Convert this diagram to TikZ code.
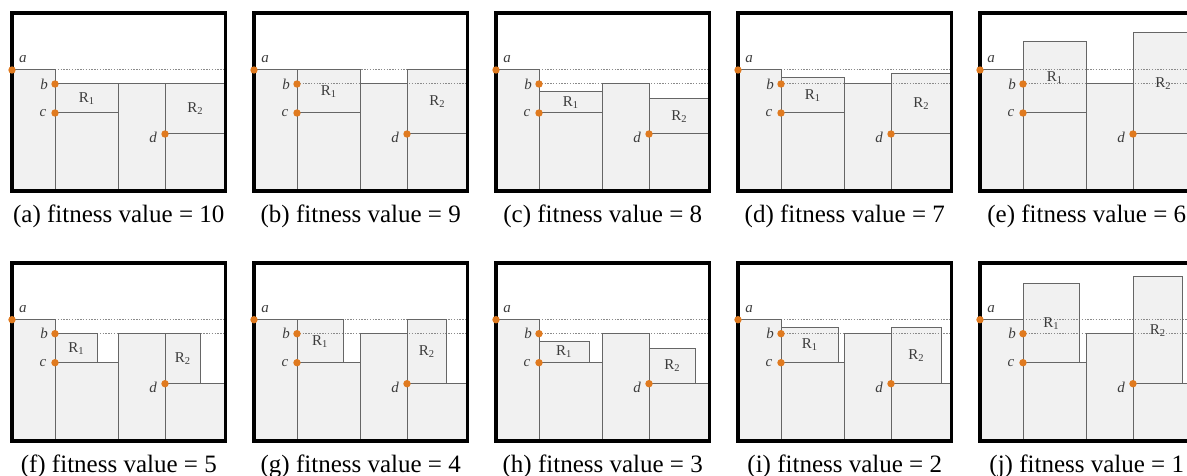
\documentclass[tikz,border=0pt]{standalone}
\usepackage{fontspec}
\setmainfont{Liberation Serif}
\definecolor{skyfill}{HTML}{F1F1F1}
\definecolor{edgegray}{HTML}{666666}
\definecolor{guidegray}{HTML}{8A8A8A}
\definecolor{dotorange}{HTML}{E07A1F}
\definecolor{lblgray}{HTML}{3C3C3C}
\begin{document}
\begin{tikzpicture}[x=1pt,y=-1pt,
  skyline/.style={fill=skyfill},
  edgeline/.style={draw=edgegray,line width=1pt},
  guideline/.style={draw=guidegray,line width=1pt,dash pattern=on 1.3pt off 1.5pt},
  framebox/.style={draw=black,line width=3.8pt},
  marker/.style={circle,fill=dotorange,inner sep=0pt,minimum size=7.4pt},
  ptlabel/.style={font=\fontsize{15}{15}\selectfont\itshape,text=lblgray,inner sep=0pt},
  rlabel/.style={font=\fontsize{15}{15}\selectfont,text=lblgray,inner sep=0pt},
  caption/.style={font=\fontsize{25}{25}\selectfont,anchor=base,inner sep=0pt}]
\useasboundingbox (0,0) rectangle (1187,476);
\clip (0,0) rectangle (1187,476);
\def\qxa{43}\def\qxb{106.7}\def\qxc{153}\def\qw{213.5}\def\qh{178}
\def\qya{57}\def\qyb{71}\def\qyc{100}\def\qyd{121}
\foreach \prow/\pcol/\topA/\rightA/\topB/\rightB/\plab/\pnum in {
  0/0/71/106.7/71/213.5/a/10,
  0/1/57/106.7/57/213.5/b/9,
  0/2/78.7/106.7/85.7/213.5/c/8,
  0/3/64.7/106.7/61/213.5/d/7,
  0/4/28.7/106.7/19.7/213.5/e/6,
  1/0/71/85.3/71/188.3/f/5,
  1/1/57/89/57/192.7/g/4,
  1/2/78.6/93/85.6/199.6/h/3,
  1/3/64.6/100.4/64.6/203.4/i/2,
  1/4/21/99.7/14/202.7/j/1}
{
 \begin{scope}[shift={({12+242*\pcol},{13+249.7*\prow})}]
  \fill[skyline] (0,\qya) rectangle (\qxa,\qh);
  \fill[skyline] (\qxa,\qyc) rectangle (\qxb,\qh);
  \fill[skyline] (\qxb,\qyb) rectangle (\qxc,\qh);
  \fill[skyline] (\qxc,\qyd) rectangle (\qw,\qh);
  \fill[skyline] (\qxa,\topA) rectangle (\rightA,\qyc);
  \fill[skyline] (\qxc,\topB) rectangle (\rightB,\qyd);
  \draw[guideline] (\qxa,\qya) -- (\qw,\qya);
  \draw[guideline] (\qxa,\qyb) -- (\qw,\qyb);
  \draw[edgeline] (0,\qya) -- (\qxa,\qya) -- (\qxa,\qh);
  \draw[edgeline] (\qxa,\qyc) -- (\qxb,\qyc);
  \draw[edgeline] (\qxb,\qh) -- (\qxb,\qyb) -- (\qxc,\qyb) -- (\qxc,\qh);
  \draw[edgeline] (\qxc,\qyd) -- (\qw,\qyd);
  \draw[edgeline] (\qxa,\topA) rectangle (\rightA,\qyc);
  \draw[edgeline] (\qxc,\topB) rectangle (\rightB,\qyd);
  \draw[framebox] (0,0) rectangle (\qw,\qh);
  \node[marker] (pa-\plab) at (0,\qya) {};
  \node[marker] (pb-\plab) at (\qxa,\qyb) {};
  \node[marker] (pc-\plab) at (\qxa,\qyc) {};
  \node[marker] (pd-\plab) at (\qxc,\qyd) {};
  \node[ptlabel] (la-\plab) at (11,{\qya-11}) {a};
  \node[ptlabel] (lb-\plab) at ({\qxa-11},\qyb) {b};
  \node[ptlabel] (lc-\plab) at ({\qxa-12},{\qyc+0.3}) {c};
  \node[ptlabel] (ld-\plab) at ({\qxc-12},{\qyd+3.7}) {d};
  \node[rlabel] (r1-\plab) at ({(\qxa+\rightA)/2},{(\topA+\qyc)/2}) {R\textsubscript{1}};
  \node[rlabel] (r2-\plab) at ({(\qxc+\rightB)/2},{(\topB+\qyd)/2}) {R\textsubscript{2}};
  \node[caption] (cap-\plab) at ({\qw/2},{\qh+31.7}) {(\plab) fitness value = \pnum};
 \end{scope}
}
\end{tikzpicture}
\end{document}
